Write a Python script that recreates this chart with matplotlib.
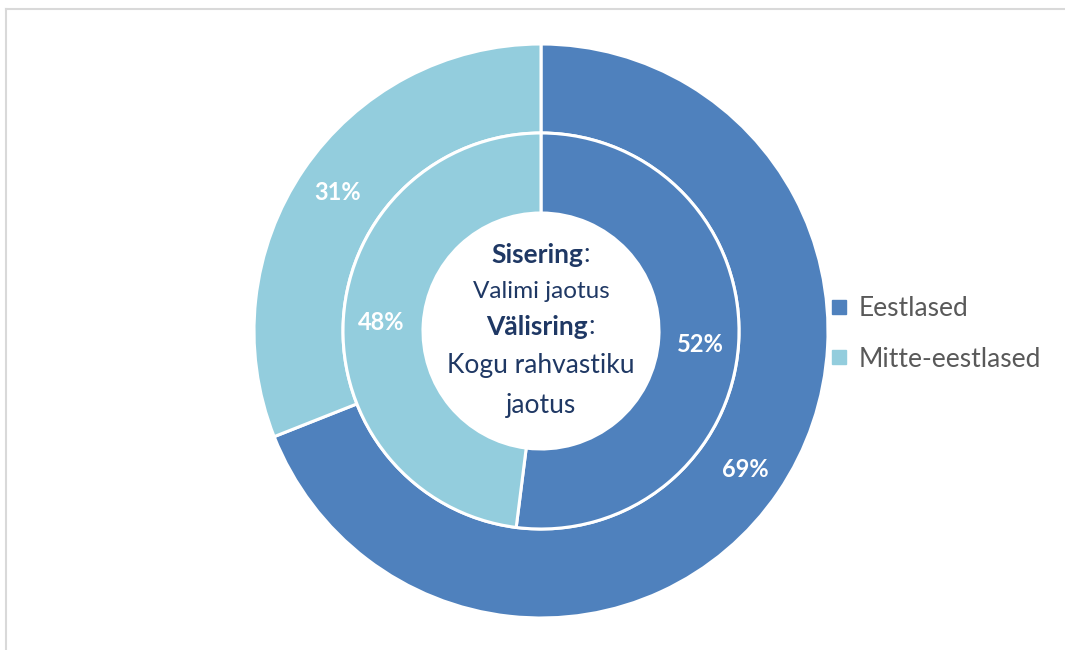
import matplotlib.pyplot as plt
from matplotlib.lines import Line2D
import numpy as np

plt.rcParams['font.family'] = ['Lato', 'DejaVu Sans']

# andmed
categories = ['Eestlased', 'Mitte-eestlased']
outer_values = [69, 31]   # välisring: kogu rahvastiku jaotus
inner_values = [52, 48]   # sisering: valimi jaotus
colors = ['#4F81BD', '#93CDDD']

W, H = 1065, 650
fig = plt.figure(figsize=(W / 100, H / 100), dpi=100)
ax = fig.add_axes([0, 0, 1, 1])

cx, cy = 541, H - 331
r_out, r_mid, r_in = 287, 198, 118

wp = dict(edgecolor='white', linewidth=2.2)
outer, _ = ax.pie(outer_values, colors=colors, radius=r_out, center=(cx, cy),
                  startangle=90, counterclock=False,
                  wedgeprops=dict(width=r_out - r_mid, **wp), frame=True)
inner, _ = ax.pie(inner_values, colors=colors, radius=r_mid, center=(cx, cy),
                  startangle=90, counterclock=False,
                  wedgeprops=dict(width=r_mid - r_in, **wp), frame=True)
ax.set_xlim(0, W)
ax.set_ylim(0, H)
ax.set_aspect('equal')
ax.axis('off')

# välisringi sildid keset lõiku
for w, v in zip(outer, outer_values):
    ang = np.deg2rad((w.theta1 + w.theta2) / 2)
    rr = (r_out + r_mid) / 2 + 4
    ax.text(cx + rr * np.cos(ang), cy + rr * np.sin(ang), f'{v}%',
            color='white', fontsize=17, fontweight='bold', ha='center', va='center')

# siseringi sildid (Excel paigutab need külgedele)
inner_label_angles = [-5, 177]
for a, v in zip(inner_label_angles, inner_values):
    ang = np.deg2rad(a)
    rr = 160
    ax.text(cx + rr * np.cos(ang), cy + rr * np.sin(ang), f'{v}%',
            color='white', fontsize=17, fontweight='bold', ha='center', va='center')

# keskmine tekst
navy = '#1F3864'
fs = 19
t1 = ax.text(cx - 4, H - 255, 'Sisering', color=navy, fontsize=fs, fontweight='bold',
             ha='center', va='center')
ax.annotate(':', xy=(1, 0.5), xycoords=t1, xytext=(0.5, 0), textcoords='offset points',
            color=navy, fontsize=fs, ha='left', va='center')
ax.text(cx, H - 292, 'Valimi jaotus', color=navy, fontsize=17.5, ha='center', va='center')
t2 = ax.text(cx - 4, H - 327, 'Välisring', color=navy, fontsize=fs, fontweight='bold',
             ha='center', va='center')
ax.annotate(':', xy=(1, 0.5), xycoords=t2, xytext=(0.5, 0), textcoords='offset points',
            color=navy, fontsize=fs, ha='left', va='center')
ax.text(cx, H - 366, 'Kogu rahvastiku', color=navy, fontsize=fs, ha='center', va='center')
ax.text(cx, H - 406, 'jaotus', color=navy, fontsize=fs, ha='center', va='center')

# legend
handles = [Line2D([], [], marker='s', linestyle='none', markersize=9.5,
                  markerfacecolor=c, markeredgecolor=c) for c in colors]
ax.legend(handles, categories, loc='center left', bbox_to_anchor=(802 / W, 1 - 334 / H),
          frameon=False, fontsize=19, labelcolor='#595959', handletextpad=0.25,
          labelspacing=0.95, handlelength=1.0)

# raam
frame_c = '#D9D9D9'
fig.add_artist(Line2D([6 / W, 1], [1 - 9 / H, 1 - 9 / H], color=frame_c, linewidth=1.5))
fig.add_artist(Line2D([6 / W, 6 / W], [0, 1 - 9 / H], color=frame_c, linewidth=1.5))

fig.savefig('out.png', dpi=100)
